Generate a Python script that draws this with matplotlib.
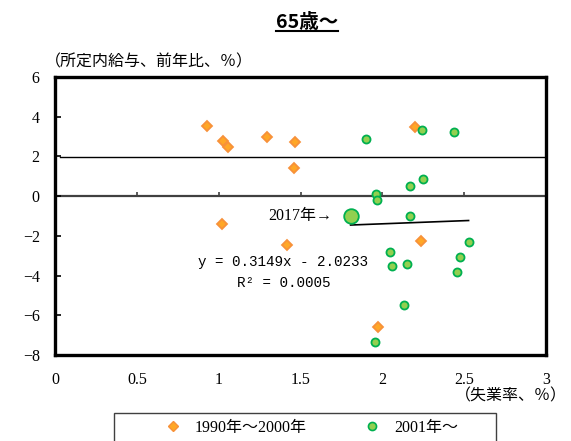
import numpy as np
import matplotlib
matplotlib.use('Agg')
import matplotlib.pyplot as plt
from matplotlib.lines import Line2D
from matplotlib.patches import Rectangle

plt.rcParams['font.family'] = ['Liberation Serif', 'Noto Sans CJK JP']
plt.rcParams['axes.unicode_minus'] = True

# 1990-2000 (orange diamonds)
old_x = [0.927, 1.028, 1.059, 1.293, 1.466, 1.460, 1.020, 1.419, 2.199, 2.236, 1.971]
old_y = [3.54, 2.79, 2.49, 2.99, 2.71, 1.40, -1.40, -2.48, 3.49, -2.26, -6.59]

# 2001-2016 (green circles)
new_x = [1.900, 2.240, 2.439, 2.248, 2.170, 1.961, 1.969, 2.170, 2.527,
         2.048, 2.057, 2.150, 2.474, 2.458, 2.134, 1.953]
new_y = [2.88, 3.31, 3.24, 0.86, 0.51, 0.09, -0.21, -1.00, -2.30,
         -2.80, -3.52, -3.43, -3.08, -3.81, -5.47, -7.35]

# 2017 (large circle)
x2017 = 1.806
y2017 = -1.00

# trend line of 2001~
slope = 0.3149
intercept = -2.0233
r2 = 0.0005

ref_y = 1.95  # horizontal reference line

xticks = [0, 0.5, 1, 1.5, 2, 2.5, 3]
xticklabels = ['0', '0.5', '1', '1.5', '2', '2.5', '3']
yticks = [6, 4, 2, 0, -2, -4, -6, -8]

orange_fill = '#FFA726'
orange_edge = '#F7913A'
green_fill = '#92D050'
green_edge = '#00B050'

fig = plt.figure(figsize=(5.71, 4.41), dpi=100)
ax = fig.add_axes([55/571, 1 - 355/441, (546-55)/571, (355-77)/441])

ax.set_xlim(0, 3)
ax.set_ylim(-8, 6)

# zero line and reference line
ax.axhline(0, color='#404040', lw=1.6, zorder=1)
ax.axhline(ref_y, xmin=0.01, xmax=1, color='black', lw=1.0, zorder=1)
# x tick marks sit on the zero line
ax.vlines(xticks[1:-1], 0, 0.2, color='#404040', lw=1.2, zorder=1)

# trend line over the range of 2001~ data
all_new_x = np.array(new_x + [x2017])
tx = np.array([all_new_x.min(), all_new_x.max()])
ax.plot(tx, slope * tx + intercept, color='black', lw=1.2, zorder=2)

ax.plot(old_x, old_y, 'D', ms=5, mfc=orange_fill, mec=orange_edge, mew=1.3,
        linestyle='none', zorder=3)
ax.plot(new_x, new_y, 'o', ms=5.8, mfc=green_fill, mec=green_edge, mew=1.3,
        linestyle='none', zorder=3)
ax.plot([x2017], [y2017], 'o', ms=10.5, mfc=green_fill, mec=green_edge, mew=1.3,
        linestyle='none', zorder=4)

ax.text(1.692, y2017, '2017年→', ha='right', va='center', fontsize=11.5,
        family=['Liberation Serif', 'Noto Sans CJK JP'])
ax.text(1.396, -3.34, 'y = %.4fx - %.4f' % (slope, -intercept), ha='center', va='center',
        fontsize=10.3, family='Liberation Mono')
ax.text(1.396, -4.38, 'R² = %.4f' % r2, ha='center', va='center',
        fontsize=10.3, family='Liberation Mono')

ax.set_xticks(xticks)
ax.set_xticklabels(xticklabels)
ax.set_yticks(yticks)
ax.set_yticklabels([str(v).replace('-', '\u2212') for v in yticks])
ax.tick_params(axis='x', length=0, pad=12, labelsize=11.5)
ax.tick_params(axis='y', direction='in', length=4, width=1.2, pad=11, labelsize=11.5)

for s in ax.spines.values():
    s.set_linewidth(2.4)
    s.set_color('black')

fig.text(45/571, 1 - 62/441, '（所定内給与、前年比、％）', ha='left', va='center', fontsize=11.5)
fig.text(567/571, 1 - 396/441, '（失業率、％）', ha='right', va='center', fontsize=11.5)

title = fig.text(307/571, 1 - 23/441, '65歳～', ha='center', va='center', fontsize=14,
                 fontweight='bold', family=['Noto Sans CJK JP'])

# legend frame (runs past the bottom edge, as in the source)
fig.add_artist(Rectangle((114/571, -0.05), (496-114)/571, 0.05 + 1 - 413/441,
                         transform=fig.transFigure, facecolor='white',
                         edgecolor='#404040', lw=1.0, zorder=0))

handles = [
    Line2D([], [], marker='D', ms=5, mfc=orange_fill, mec=orange_edge, mew=1.0, linestyle='none'),
    Line2D([], [], marker='o', ms=5.8, mfc=green_fill, mec=green_edge, mew=1.2, linestyle='none'),
]
leg = fig.legend(handles, ['1990年～2000年', '2001年～'], loc='center left',
                 bbox_to_anchor=(159/571, 1 - 428/441), ncol=2, fontsize=11.5,
                 frameon=False, borderpad=0, borderaxespad=0,
                 columnspacing=3.2, handlelength=1.75, handletextpad=0.5)

# underline the title
fig.canvas.draw()
bb = title.get_window_extent(fig.canvas.get_renderer()).transformed(fig.transFigure.inverted())
fig.add_artist(Line2D([bb.x0, bb.x1], [bb.y0 + 0.004, bb.y0 + 0.004], transform=fig.transFigure,
                      color='black', lw=1.5))

fig.savefig('out.png', dpi=100)
